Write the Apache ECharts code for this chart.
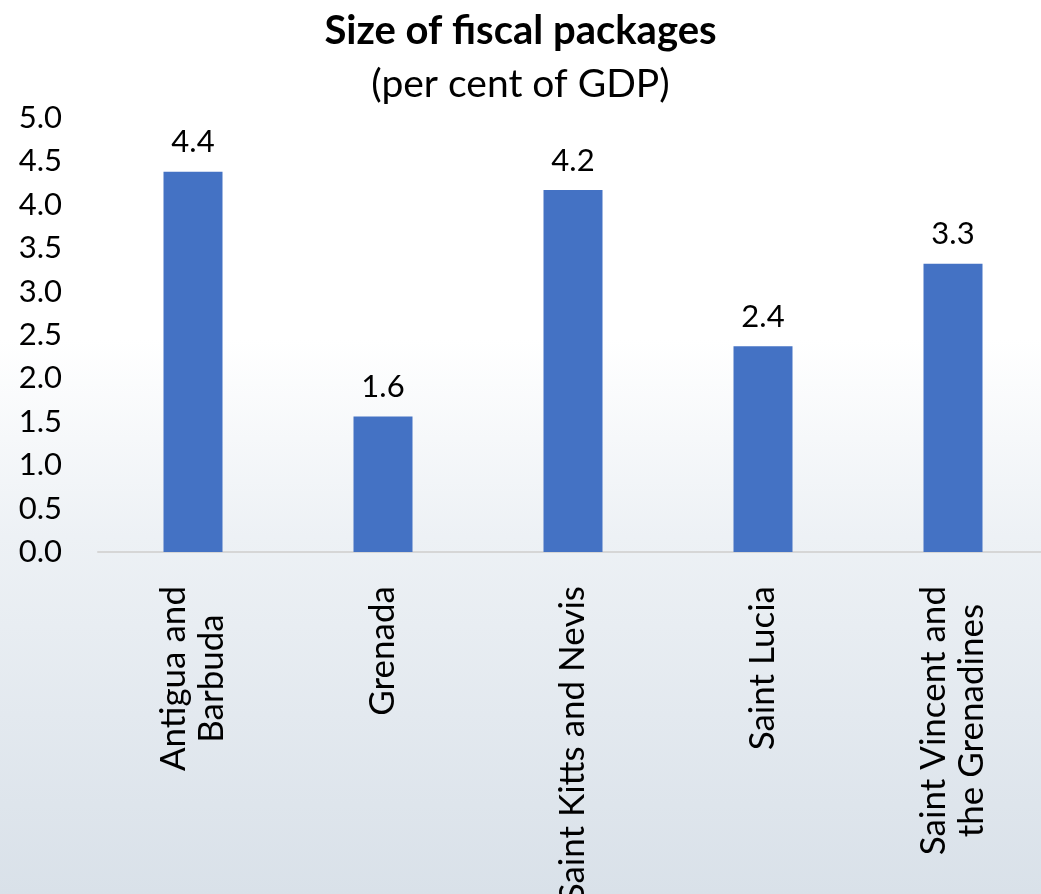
<!DOCTYPE html>
<html>
<head>
<meta charset="utf-8">
<script src="https://cdn.jsdelivr.net/npm/echarts@6/dist/echarts.min.js"></script>
<style>
html,body{margin:0;padding:0;}
#c{width:1041px;height:894px;}
</style>
</head>
<body>
<div id="c"></div>
<script>
const categories = ["Antigua and\nBarbuda", "Grenada", "Saint Kitts and Nevis", "Saint Lucia", "Saint Vincent and\nthe Grenadines"];
const values = [4.38, 1.56, 4.17, 2.37, 3.32];
const yTicks = { min: 0, max: 5, interval: 0.5 };

const font = "Lato, 'Open Sans', sans-serif";
const chart = echarts.init(document.getElementById('c'), null, { renderer: 'canvas' });
chart.setOption({
  animation: false,
  backgroundColor: {
    type: 'linear', x: 0, y: 0, x2: 0, y2: 1,
    colorStops: [
      { offset: 0, color: '#ffffff' },
      { offset: 0.38, color: '#ffffff' },
      { offset: 0.6, color: '#edf1f5' },
      { offset: 1, color: '#d9e1e9' }
    ]
  },
  title: {
    text: 'Size of fiscal packages',
    subtext: '(per cent of GDP)',
    left: 'center',
    top: 6,
    itemGap: 14,
    textStyle: { fontFamily: font, fontWeight: 'bold', fontSize: 40, color: '#000' },
    subtextStyle: { fontFamily: font, fontSize: 39, color: '#000' }
  },
  grid: { left: 98, top: 118, width: 950, height: 434, containLabel: false, outerBoundsMode: 'none' },
  xAxis: {
    type: 'category',
    data: categories,
    axisLine: { lineStyle: { color: '#d6d6d6', width: 2 } },
    axisTick: { show: false },
    axisLabel: {
      rotate: 90,
      margin: 34,
      interval: 0,
      formatter: v => '{c|' + v.split('\n').join('}\n{c|') + '}',
      rich: { c: { align: 'center', fontFamily: font, fontSize: 35, color: '#000', lineHeight: 38 } }
    }
  },
  yAxis: {
    type: 'value',
    min: yTicks.min, max: yTicks.max, interval: yTicks.interval,
    axisLine: { show: false },
    axisTick: { show: false },
    splitLine: { show: false },
    axisLabel: {
      formatter: v => v.toFixed(1),
      fontFamily: font, fontSize: 31, color: '#000', margin: 36
    }
  },
  series: [{
    type: 'bar',
    data: values,
    barWidth: 59,
    itemStyle: { color: '#4472C4' },
    label: {
      show: true, position: 'top', distance: 14,
      formatter: p => p.value.toFixed(1),
      fontFamily: font, fontSize: 31, color: '#000'
    }
  }]
});
</script>
</body>
</html>
